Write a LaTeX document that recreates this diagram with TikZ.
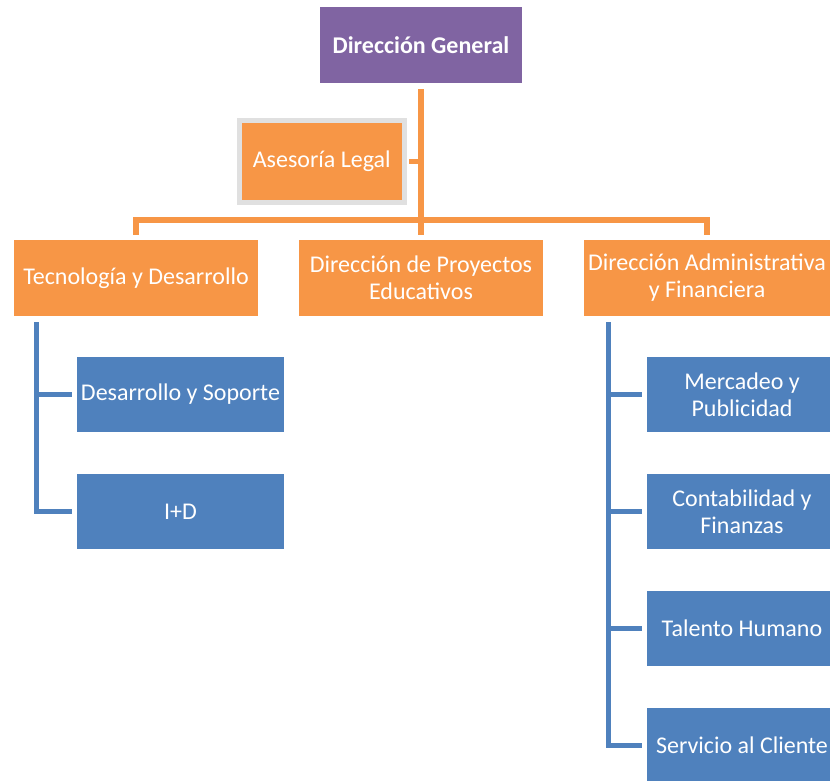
\documentclass[tikz,border=0pt]{standalone}
\usepackage{fontspec}
\setmainfont{Carlito}
\usetikzlibrary{positioning}
\definecolor{mpurple}{HTML}{8064A2}
\definecolor{morange}{HTML}{F79646}
\definecolor{mblue}{HTML}{4F81BD}
\definecolor{mgray}{HTML}{E0E0E0}
\tikzset{box/.style = {rectangle, inner sep = 0, text = white, align = center,
    font = \fontsize{24}{27}\selectfont}}
\tikzset{topbox/.style = {box, fill = mpurple, minimum width = 202, minimum height = 76,
    font = \fontsize{24}{27}\selectfont\bfseries}}
\tikzset{orgbox/.style = {box, fill = morange, minimum width = 244, minimum height = 76}}
\tikzset{bluebox/.style = {box, fill = mblue, minimum width = 190, minimum height = 75}}
\tikzset{orgline/.style = {draw = morange, line width = 5.5pt}}
\tikzset{blueline/.style = {draw = mblue, line width = 5pt}}

\begin{document}
\begin{tikzpicture}[x = 1pt, y = -1pt]
      \useasboundingbox (0, 0) rectangle (830, 780);

      \node [topbox] (dg) at (421, 45) {Dirección General};
      \node [orgbox, draw = mgray, line width = 5pt, minimum width = 164.5, minimum height = 81.5]
        (al) at (321.75, 161.25) {Asesoría Legal};

      \node [orgbox] (td) at (136, 278) {Tecnología y Desarrollo};
      \node [orgbox] (dp) at (421, 278) {Dirección de Proyectos\\Educativos};
      \node [orgbox, minimum width = 246] (da) at (707, 278) {Dirección Administrativa\\y Financiera};

      \node [bluebox, minimum width = 207] (ds) at (180.5, 394.5) {Desarrollo y Soporte};
      \node [bluebox, minimum width = 207] (id) at (180.5, 511.5) {I+D};

      \node [bluebox] (mp) at (742, 394.5) {Mercadeo y\\Publicidad};
      \node [bluebox] (cf) at (742, 511.5) {Contabilidad y\\Finanzas};
      \node [bluebox] (th) at (742, 628) {Talento Humano};
      \node [bluebox] (sc) at (742, 745) {Servicio al Cliente};

      \coordinate (bus) at (421, 220);
      \coordinate (tdl) at (36, 322);
      \coordinate (dal) at (608, 322);

      \draw [orgline, shorten <= 6pt, shorten >= 5pt] (dg) -- (dp);
      \draw [orgline, shorten <= 2.5pt] (al.east) -- (al.east -| dg.south);
      \draw [orgline] ([yshift = 5pt] td.north) |- (bus) -| ([yshift = 5pt] da.north);

      \draw [blueline] (tdl) |- ([xshift = -5pt] id.west);
      \draw [blueline] (ds.west -| tdl) -- ([xshift = -5pt] ds.west);

      \draw [blueline] (dal) |- ([xshift = -5pt] sc.west);
      \draw [blueline] (mp.west -| dal) -- ([xshift = -5pt] mp.west);
      \draw [blueline] (cf.west -| dal) -- ([xshift = -5pt] cf.west);
      \draw [blueline] (th.west -| dal) -- ([xshift = -5pt] th.west);
    \end{tikzpicture}
\end{document}
